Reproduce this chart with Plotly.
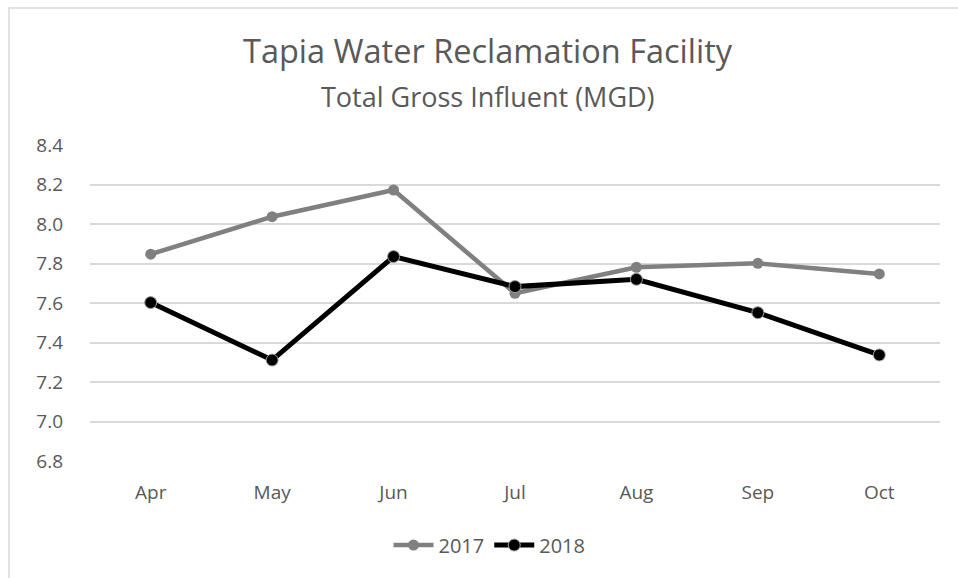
import plotly.graph_objects as go

months = ["Apr", "May", "Jun", "Jul", "Aug", "Sep", "Oct"]
y2017 = [7.847, 8.037, 8.172, 7.649, 7.781, 7.801, 7.747]
y2018 = [7.602, 7.311, 7.835, 7.683, 7.720, 7.551, 7.337]
yticks = [6.8, 7.0, 7.2, 7.4, 7.6, 7.8, 8.0, 8.2, 8.4]

fig = go.Figure()
fig.add_trace(go.Scatter(x=months, y=y2017, name="2017", mode="lines+markers",
                         line=dict(color="#808080", width=4.5),
                         marker=dict(color="#808080", size=11, line=dict(width=0))))
fig.add_trace(go.Scatter(x=months, y=y2018, name="2018", mode="lines+markers",
                         line=dict(color="#000000", width=5),
                         marker=dict(color="#000000", size=12, line=dict(color="#a0a0a0", width=1))))

font_family = "Open Sans, Liberation Sans, sans-serif"
fig.update_layout(
    width=958, height=578,
    margin=dict(l=90, r=18, t=145, b=117),
    paper_bgcolor="white", plot_bgcolor="white",
    font=dict(family=font_family, color="#595959", size=19),
    showlegend=True,
    legend=dict(orientation="h", x=0.47, xanchor="center", y=-0.266, yanchor="middle",
                font=dict(size=20, color="#595959"), itemwidth=40),
    xaxis=dict(range=[-0.5, 6.5], showgrid=False, showline=False, ticks="",
               ticklabelstandoff=18,
               tickfont=dict(size=19, color="#595959")),
    yaxis=dict(range=[6.8, 8.4], tickvals=yticks, tickformat=".1f",
               showgrid=True, gridcolor="#d9d9d9", gridwidth=1.5, zeroline=False,
               showline=False, ticks="", ticklen=0, ticklabelstandoff=26,
               tickfont=dict(size=19, color="#595959")),
    annotations=[
        dict(text="Tapia Water Reclamation Facility", xref="paper", yref="paper",
             x=0.468, y=1.3006, xanchor="center", yanchor="middle", showarrow=False,
             font=dict(size=32.5, color="#595959", family=font_family)),
        dict(text="Total Gross Influent (MGD)", xref="paper", yref="paper",
             x=0.468, y=1.152, xanchor="center", yanchor="middle", showarrow=False,
             font=dict(size=27, color="#595959", family=font_family)),
    ],
    shapes=[dict(type="rect", xref="paper", yref="paper", x0=-0.0953, y0=-0.5,
                 x1=1.05, y1=1.4335, line=dict(color="#d9d9d9", width=1.5),
                 fillcolor="rgba(0,0,0,0)", layer="below")],
)

fig.write_html("out.html", config={"displayModeBar": False},
               post_script="document.body.style.margin='0';")
